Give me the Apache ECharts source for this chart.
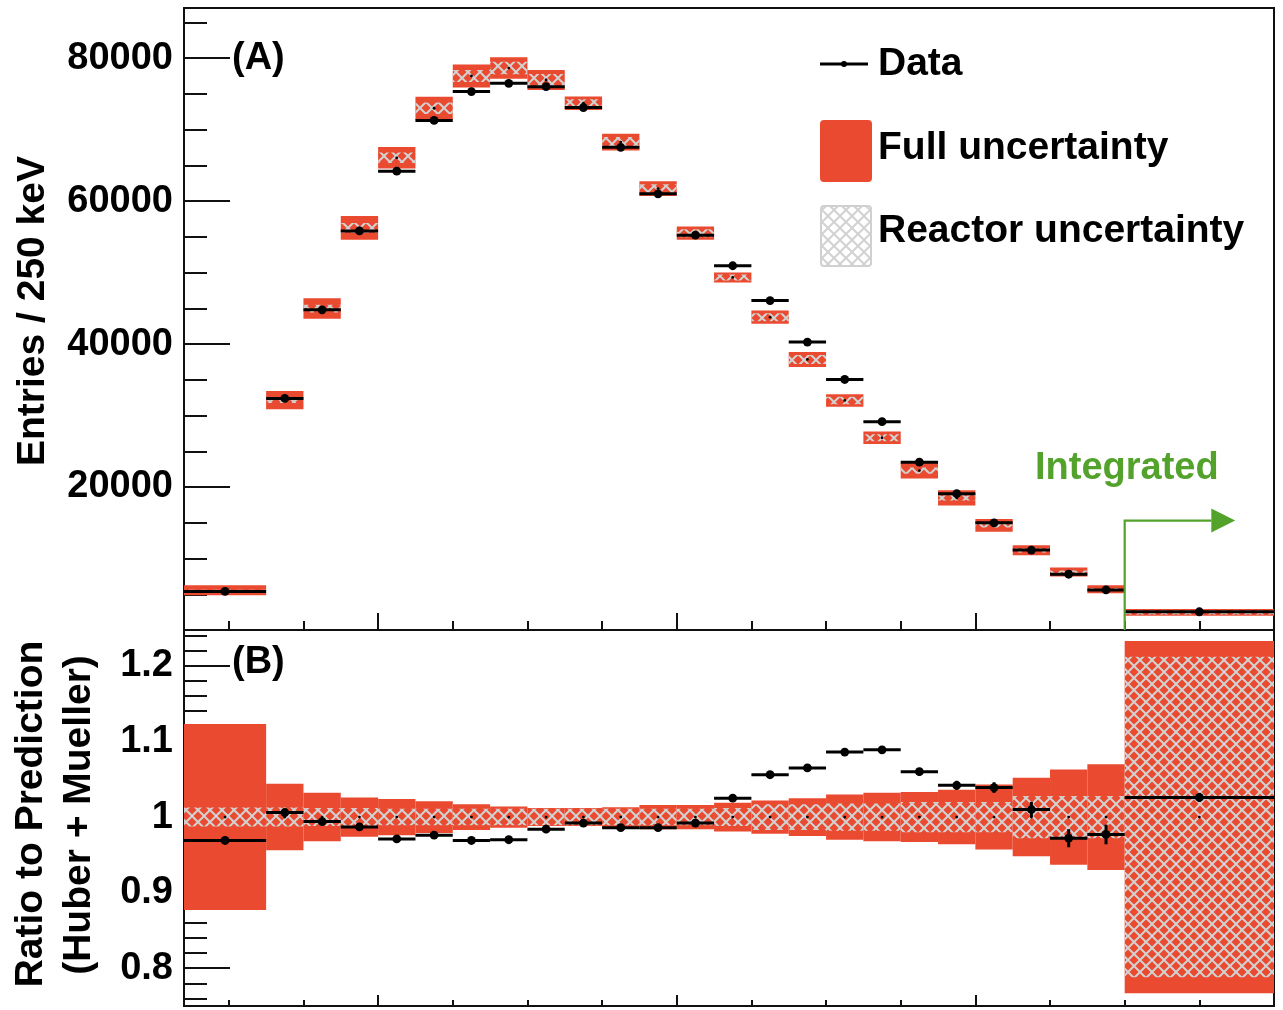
<!DOCTYPE html>
<html><head><meta charset="utf-8">
<script src="https://cdn.jsdelivr.net/npm/echarts@6/dist/echarts.min.js"></script>
<style>html,body{margin:0;padding:0;background:#fff}#c{width:1283px;height:1010px}</style>
</head><body><div id="c"></div>
<script>
// ---- bins (prompt energy, MeV); last bin is the integrated bin, drawn 7-8 ----
const binLo = [0.7,1.25,1.5,1.75,2.0,2.25,2.5,2.75,3.0,3.25,3.5,3.75,4.0,4.25,4.5,4.75,5.0,5.25,5.5,5.75,6.0,6.25,6.5,6.75,7.0];
const binHi = [1.25,1.5,1.75,2.0,2.25,2.5,2.75,3.0,3.25,3.5,3.75,4.0,4.25,4.5,4.75,5.0,5.25,5.5,5.75,6.0,6.25,6.5,6.75,7.0,8.0];
// ---- panel A ----
const dataEntries = [5400,32390,44780,55820,64170,71270,75310,76470,76000,73080,67510,61010,55220,50950,46080,40270,35040,29140,23480,19070,14990,11180,7800,5610,2550];
const predEntries = [5570,32150,44960,56240,66050,72980,77490,78600,76930,73680,68240,61740,55500,49320,43750,37840,32110,26890,22300,18470,14640,11140,8100,5700,2460];
const predErr     = [700,1270,1430,1670,1500,1620,1620,1500,1390,930,1180,1040,930,700,930,1040,880,860,1100,1070,900,700,630,560,460];
// ---- panel B ----
const ratio      = [0.969,1.006,0.994,0.987,0.971,0.976,0.969,0.970,0.984,0.992,0.986,0.986,0.992,1.025,1.056,1.065,1.086,1.089,1.060,1.042,1.039,1.010,0.972,0.977,1.026];
const ratioErr   = [0.004,0.003,0.003,0.003,0.003,0.003,0.003,0.003,0.003,0.003,0.003,0.003,0.003,0.003,0.004,0.004,0.004,0.005,0.005,0.006,0.007,0.010,0.012,0.013,0.006];
const fullUnc    = [0.123,0.044,0.032,0.026,0.024,0.021,0.017,0.014,0.012,0.012,0.013,0.016,0.016,0.019,0.022,0.025,0.030,0.032,0.033,0.036,0.043,0.052,0.063,0.070,0.233];
const reactorUnc = [0.0125,0.0125,0.012,0.012,0.011,0.011,0.011,0.011,0.011,0.011,0.011,0.011,0.011,0.012,0.017,0.017,0.018,0.018,0.020,0.020,0.020,0.028,0.028,0.028,0.212];
// ---- ticks ----
const yTopMajor  = [0,20000,40000,60000,80000];
const yTopLabels = [20000,40000,60000,80000];
const yTopMinor  = [5000,10000,15000,25000,30000,35000,45000,50000,55000,65000,70000,75000,85000];
const yBotMajor  = [0.8,0.9,1.0,1.1,1.2];
const yBotMinor  = [0.76,0.78,0.82,0.84,0.86,0.88,0.92,0.94,0.96,0.98,1.02,1.04,1.06,1.08,1.12,1.14,1.16,1.18,1.22,1.24];
const xMajor = [2,4,6];
const xMinor = [1,1.5,2.5,3,3.5,4.5,5,5.5,6.5,7,7.5];
// integrated-bin arrow annotation [xStart, yLevel, xLineEnd, xTip]
const integratedArrow = [[7.0,15300,7.58,7.74]];

const RED='#ea4a2f', GREEN='#52a22b', FONT='"Liberation Sans", Arial, sans-serif';

function makeHatch(bg){
  const s=12;
  const c=document.createElement('canvas'); c.width=s; c.height=s;
  const g=c.getContext('2d');
  if(bg){g.fillStyle=bg; g.fillRect(0,0,s,s);}
  g.strokeStyle='#d2d2d2'; g.lineWidth=2;
  g.beginPath(); g.moveTo(-1,-1); g.lineTo(s+1,s+1); g.moveTo(s+1,-1); g.lineTo(-1,s+1); g.stroke();
  return c;
}
const hatch = makeHatch(null);
const hatchW = makeHatch('#ffffff');

const chart = echarts.init(document.getElementById('c'), null, {renderer:'canvas'});

function xAx(grid, vals, len){
  return {type:'value', gridIndex:grid, position:'bottom', min:0.7, max:8.0, axisLine:{show:false}, splitLine:{show:false},
    axisLabel:{show:false}, axisTick:{show:true, inside:true, length:len, customValues:vals, lineStyle:{color:'#111', width:2}}};
}
function yAx(grid, min, max, vals, len, labels, fmt){
  return {type:'value', gridIndex:grid, position:'left', min:min, max:max, axisLine:{show:false}, splitLine:{show:false},
    axisTick:{show:true, inside:true, length:len, customValues:vals, lineStyle:{color:'#111', width:2}},
    axisLabel: labels ? {show:true, customValues:labels, fontFamily:FONT, fontWeight:'bold', fontSize:38, color:'#000', margin:11, formatter:fmt} : {show:false}};
}

function boxRender(topPanel){
  return function(params, api){
    const lo=api.value(0), hi=api.value(1), c=api.value(2), e=api.value(3);
    const r = topPanel ? Math.min(api.value(4), 0.6*e) : Math.min(api.value(4), e);
    const a=api.coord([lo,c+e]), b=api.coord([hi,c-e]);
    const ra=api.coord([lo,c+r]), rb=api.coord([hi,c-r]);
    const m=api.coord([(lo+hi)/2,c]);
    return {type:'group', children:[
      {type:'rect', shape:{x:a[0],y:a[1],width:b[0]-a[0],height:b[1]-a[1]}, style:{fill:RED}},
      {type:'rect', shape:{x:ra[0],y:ra[1],width:rb[0]-ra[0],height:rb[1]-ra[1]}, style:{fill:{image:hatch, repeat:'repeat'}}},
      {type:'circle', shape:{cx:m[0],cy:m[1],r:1.4}, style:{fill:'#000'}}
    ]};
  };
}
function pointRender(params, api){
  const lo=api.value(0), hi=api.value(1), v=api.value(2), e=api.value(3);
  const a=api.coord([lo,v]), b=api.coord([hi,v]);
  const m=api.coord([(lo+hi)/2,v]);
  const t=api.coord([(lo+hi)/2,v+e]), d=api.coord([(lo+hi)/2,v-e]);
  return {type:'group', children:[
    {type:'line', shape:{x1:a[0],y1:a[1],x2:b[0],y2:b[1]}, style:{stroke:'#000', lineWidth:3}},
    {type:'line', shape:{x1:t[0],y1:t[1],x2:d[0],y2:d[1]}, style:{stroke:'#000', lineWidth:3}},
    {type:'circle', shape:{cx:m[0],cy:m[1],r:4.4}, style:{fill:'#000'}}
  ]};
}

const topBoxes = binLo.map((lo,i)=>[lo, binHi[i], predEntries[i], predErr[i], predEntries[i]*reactorUnc[i]]);
const topPts   = binLo.map((lo,i)=>[lo, binHi[i], dataEntries[i], 0]);
const botBoxes = binLo.map((lo,i)=>[lo, binHi[i], 1, fullUnc[i], reactorUnc[i]]);
const botPts   = binLo.map((lo,i)=>[lo, binHi[i], ratio[i], ratioErr[i]]);

const T = {fontFamily:FONT, fontWeight:'bold', fontSize:38, fill:'#000'};
const TL = Object.assign({}, T, {fontSize:39});

chart.setOption({
  animation:false,
  backgroundColor:'#fff',
  grid:[
    {left:184, top:8, width:1090, height:622, show:true, borderColor:'#111', borderWidth:2, backgroundColor:'transparent'},
    {left:184, top:630, width:1090, height:376, show:true, borderColor:'#111', borderWidth:2, backgroundColor:'transparent'}
  ],
  xAxis:[ xAx(0,xMajor,17), xAx(0,xMinor,9), xAx(1,xMajor,11), xAx(1,xMinor,6) ],
  yAxis:[
    yAx(0,0,87000,yTopMajor,46,yTopLabels,v=>String(v)),
    yAx(0,0,87000,yTopMinor,23,null),
    yAx(1,0.75,1.2475,yBotMajor,46,yBotMajor,v=>String(+(+v).toFixed(2))),
    yAx(1,0.75,1.2475,yBotMinor,23,null)
  ],
  series:[
    {type:'custom', name:'pred', xAxisIndex:0, yAxisIndex:0, clip:true, data:topBoxes, renderItem:boxRender(true), z:2},
    {type:'custom', name:'data', xAxisIndex:0, yAxisIndex:0, clip:true, data:topPts, renderItem:pointRender, z:3},
    {type:'custom', name:'arrow', xAxisIndex:0, yAxisIndex:0, data:integratedArrow, z:4,
      renderItem:function(params, api){
        const x0=api.value(0), y=api.value(1), x1=api.value(2), x2=api.value(3);
        const b=api.coord([x0,0]), c=api.coord([x0,y]), e=api.coord([x1,y]), tip=api.coord([x2,y]);
        return {type:'group', children:[
          {type:'polyline', shape:{points:[b,c,e]}, style:{stroke:GREEN, lineWidth:2.2, fill:null}},
          {type:'polygon', shape:{points:[[e[0],e[1]-12],[tip[0],tip[1]],[e[0],e[1]+12]]}, style:{fill:GREEN}}
        ]};
      }},
    {type:'custom', name:'band', xAxisIndex:2, yAxisIndex:2, clip:true, data:botBoxes, renderItem:boxRender(false), z:2},
    {type:'custom', name:'ratio', xAxisIndex:2, yAxisIndex:2, clip:true, data:botPts, renderItem:pointRender, z:3}
  ],
  graphic:[
    {type:'text', x:33, y:311, rotation:Math.PI/2, style:Object.assign({text:'Entries / 250 keV', textAlign:'center', textVerticalAlign:'middle'},TL)},
    {type:'text', x:31, y:814, rotation:Math.PI/2, style:Object.assign({text:'Ratio to Prediction', textAlign:'center', textVerticalAlign:'middle'},TL)},
    {type:'text', x:79, y:815, rotation:Math.PI/2, style:Object.assign({text:'(Huber + Mueller)', textAlign:'center', textVerticalAlign:'middle'},TL)},
    {type:'text', x:232, y:59, style:Object.assign({text:'(A)', textAlign:'left', textVerticalAlign:'middle'},T)},
    {type:'text', x:232, y:663, style:Object.assign({text:'(B)', textAlign:'left', textVerticalAlign:'middle'},T)},
    {type:'text', x:1035, y:469, style:Object.assign({},T,{text:'Integrated', fill:GREEN, textAlign:'left', textVerticalAlign:'middle'})},
    // legend
    {type:'line', shape:{x1:820,y1:64,x2:868,y2:64}, style:{stroke:'#000', lineWidth:3}},
    {type:'circle', shape:{cx:844,cy:64,r:3}, style:{fill:'#000'}},
    {type:'text', x:878, y:64, style:Object.assign({text:'Data', textAlign:'left', textVerticalAlign:'middle'},TL)},
    {type:'rect', shape:{x:820,y:120,width:52,height:62,r:4}, style:{fill:RED}},
    {type:'text', x:878, y:148, style:Object.assign({text:'Full uncertainty', textAlign:'left', textVerticalAlign:'middle'},TL)},
    {type:'rect', shape:{x:821,y:206,width:50,height:60,r:3}, style:{fill:{image:hatchW, repeat:'repeat'}, stroke:'#d0d0d0', lineWidth:2}},
    {type:'text', x:878, y:231, style:Object.assign({text:'Reactor uncertainty', textAlign:'left', textVerticalAlign:'middle'},TL)}
  ]
});
</script></body></html>
